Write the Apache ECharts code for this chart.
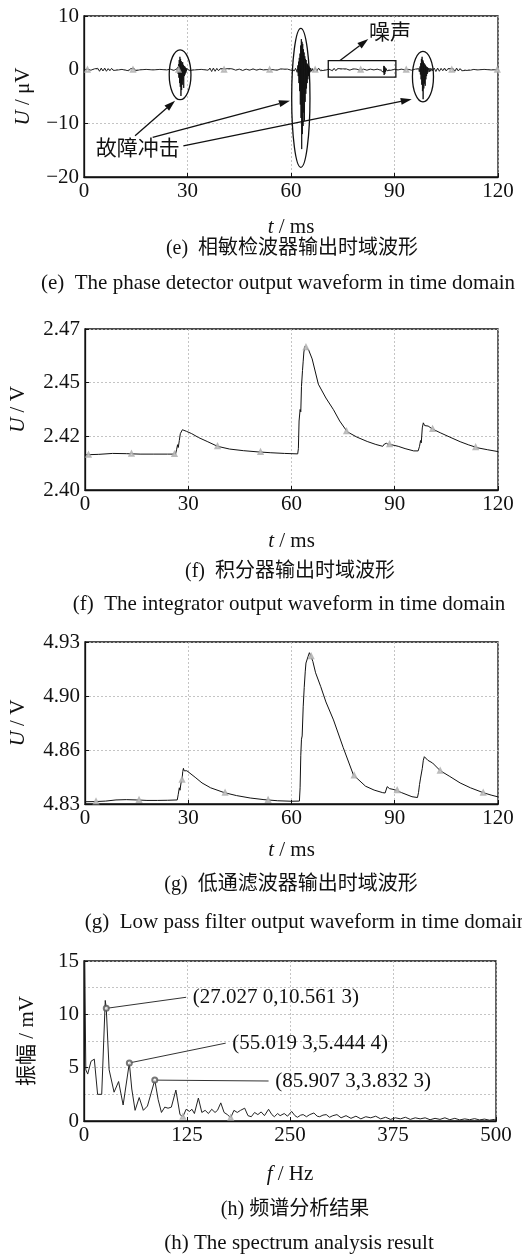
<!DOCTYPE html>
<html>
<head>
<meta charset="utf-8">
<script src="https://cdn.jsdelivr.net/npm/echarts@6/dist/echarts.min.js"></script>
<style>
  html, body { margin: 0; padding: 0; background: #fff; }
  #chart { width: 522px; height: 1256px; }
</style>
</head>
<body>
<div id="chart"></div>
<script>
// (e) phase detector output, t in ms, U in uV
let detectorWave = [
  [0,0],[1,0.1],[2,-0.1],[3,0.15],[3.5,-0.2],[4,0.25],[4.5,-0.3],[5,0.3],[5.5,-0.25],[6,0.3],[6.5,-0.3],[7,0.2],[7.5,-0.2],[8,0.25],[8.5,-0.15],[9,0.1],
  [10,-0.05],[11,0.05],[12,-0.1],[12.5,0.15],[13,-0.2],[13.5,0.2],[14,-0.15],[14.5,0.25],[15,-0.2],[15.5,0.1],[16,-0.05],[18,0.05],[20,-0.05],[22,0.05],[24,-0.05],[25,0.1],[26,-0.15],[26.5,0.2],
  [27,0.2],[27.1,-0.3],[27.2,0.5],[27.3,-0.8],[27.4,1.0],[27.5,-1.5],[27.6,1.8],[27.7,-2.5],[27.8,2.4],[27.9,-3.2],[28,2.0],[28.1,-4.9],[28.2,1.6],[28.3,-3.8],[28.4,1.2],[28.5,-2.8],
  [28.6,1.4],[28.7,-2.0],[28.8,0.9],[28.9,-3.4],[29,0.7],[29.1,-1.2],[29.2,0.6],[29.3,-0.9],[29.4,0.4],[29.5,-0.6],[29.6,0.3],[29.7,-0.3],[29.8,0.2],[29.9,-0.1],[30,0],
  [30.2,0.1],[30.5,-0.15],[31,0.1],[32,-0.05],[34,0.05],[36,-0.1],[36.5,0.3],[37,-0.35],[37.5,0.3],[38,-0.3],[38.5,0.25],[39,-0.2],[39.5,0.2],[40,-0.15],[41,0.15],[41.5,-0.2],[42,0.2],[42.5,-0.15],
  [43,0.15],[44,-0.1],[45,0.1],[46,-0.15],[47,0.1],[48,-0.1],[49,0.15],[50,-0.1],[51,0.1],[52,-0.05],[54,0.05],[56,-0.1],[57,0.15],[57.5,-0.15],[58,0.1],[58.5,-0.1],[59,0.1],[60,-0.1],[60.5,0.15],[61,-0.2],[61.3,0.25],
  [61.6,0.3],[61.8,-0.5],[62,0.8],[62.1,-1.2],[62.2,1.5],[62.3,-2.5],[62.4,2.2],[62.5,-4.0],[62.6,3.0],[62.7,-6.5],[62.8,4.5],[62.9,-9.0],[63,5.7],[63.1,-14.8],[63.2,5.2],[63.3,-12.0],[63.4,4.8],[63.5,-10.5],
  [63.6,3.8],[63.7,-8.0],[63.8,3.2],[63.9,-9.5],[64,2.5],[64.1,-6.0],[64.2,2.0],[64.3,-4.5],[64.4,1.8],[64.5,-3.5],[64.6,1.2],[64.7,-2.5],[64.8,1.0],[64.9,-1.8],[65,0.8],[65.1,-1.2],[65.2,0.6],[65.3,-0.8],
  [65.4,0.4],[65.5,-0.5],[65.7,0.3],[65.9,-0.3],[66.2,0.2],[66.5,-0.3],[67,0.25],[67.5,-0.3],[68,0.3],[68.5,-0.2],[69,0.15],[70,-0.1],[71,0.1],[72,-0.2],[72.5,0.25],[73,-0.2],[73.5,0.2],[74,-0.15],
  [75,0.15],[75.5,-0.2],[76,0.15],[77,-0.1],[78,0.15],[78.5,-0.15],[79,0.1],[80,-0.1],[81,0.1],[82,-0.1],[83,0.1],[84,-0.05],[85,0.1],[86,-0.1],[86.5,0.2],
  [86.6,0.2],[86.8,-0.5],[86.9,0.7],[87,-1.0],[87.1,0.6],[87.2,-0.8],[87.3,0.4],[87.4,-0.4],[87.6,0.2],[87.8,-0.2],[88.2,0.15],[89,-0.1],[90,0.05],[91,-0.05],[92,0.1],[93,-0.05],[94,0.05],[95,-0.1],[96,0.1],[96.5,-0.15],
  [97,0.2],[97.2,-0.4],[97.4,0.6],[97.5,-0.9],[97.6,1.2],[97.7,-1.8],[97.8,2.0],[97.9,-2.8],[98,2.4],[98.1,-4.0],[98.2,1.8],[98.3,-5.5],[98.4,1.5],[98.5,-3.5],[98.6,1.2],[98.7,-2.6],[98.8,1.0],[98.9,-3.0],
  [99,0.8],[99.1,-1.8],[99.2,0.6],[99.3,-1.2],[99.4,0.5],[99.5,-0.8],[99.6,0.4],[99.7,-0.5],[99.9,0.3],[100.1,-0.4],[100.3,0.3],[100.5,-0.3],[100.8,0.2],[101,-0.2],
  [101.5,0.3],[102,-0.35],[102.5,0.3],[103,-0.3],[103.5,0.25],[104,-0.2],[104.5,0.3],[105,-0.25],[105.5,0.2],[106,-0.15],[107,0.2],[107.5,-0.3],[108,0.3],[108.5,-0.25],[109,0.2],[109.5,-0.2],[110,0.15],
  [110.5,-0.15],[111,0.1],[112,-0.1],[113,0.05],[114,-0.05],[116,0.05],[118,-0.05],[120,0]
];
let detectorMarkT = [1, 14.2, 27.4, 40.6, 53.8, 67, 80.2, 93.4, 106.6, 119.8];

// (f) integrator output, U in V
let integratorWave = [
  [0,2.4153],[4,2.4155],[8,2.4159],[12,2.4158],[16,2.4156],[20,2.4156],[24,2.4156],[26.3,2.4156],[26.6,2.4175],[26.9,2.4197],[27.1,2.4185],[27.4,2.4215],[27.7,2.4245],[28,2.4238],[28.3,2.4262],
  [28.7,2.4258],[29.5,2.4255],[31,2.4245],[33,2.4228],[35.5,2.4211],[38.5,2.419],[42,2.4178],[46,2.4171],[50,2.4166],[54,2.4162],[58,2.4159],[61.8,2.4157],
  [62,2.418],[62.2,2.43],[62.5,2.435],[62.7,2.434],[62.9,2.445],[63.2,2.452],[63.4,2.456],[63.6,2.46],[63.9,2.4625],[64.3,2.462],[65,2.4608],[66,2.457],[67.8,2.446],[70,2.44],[72.2,2.4349],
  [74,2.43],[76.2,2.4253],[79,2.423],[82,2.4211],[84.5,2.4198],[86.5,2.419],[87,2.42],[87.6,2.4203],[88.2,2.4197],[89,2.4197],[91,2.419],[93,2.418],[95.5,2.417],[96.8,2.417],
  [97.2,2.419],[97.5,2.4215],[97.7,2.4205],[98,2.427],[98.3,2.4292],[98.7,2.428],[99.2,2.4285],[99.7,2.4278],[101,2.4265],[103.2,2.4249],[106,2.423],[109,2.421],[111.5,2.4196],[114.2,2.4183],[117,2.4175],[120,2.4167]
];
let integratorMarks = [[1,2.4153],[13.5,2.4158],[26,2.4156],[38.5,2.419],[51,2.4165],[64.2,2.4621],[76,2.4255],[88.5,2.4199],[101,2.4265],[113.5,2.4186]];

// (g) low pass filter output, U in V
let lowpassWave = [
  [0,4.8314],[3,4.8315],[6,4.8318],[9,4.8325],[12,4.8327],[15,4.8325],[18,4.8322],[21,4.8322],[24,4.8323],[26.8,4.8325],[27.1,4.836],[27.4,4.84],[27.6,4.8385],[27.9,4.843],[28.2,4.845],
  [28.4,4.85],[28.6,4.852],[28.8,4.8505],[29.1,4.8515],[29.6,4.8505],[30.5,4.849],[32,4.8465],[34,4.843],[36.5,4.84],[40.5,4.837],[44,4.8352],[48,4.8337],[52,4.8327],[56,4.832],[60,4.8317],
  [62.3,4.8318],[62.5,4.84],[62.7,4.86],[62.9,4.87],[63.1,4.872],[63.4,4.89],[63.7,4.902],[64,4.912],[64.2,4.917],[64.5,4.916],[64.8,4.921],[65.2,4.9234],[65.6,4.9215],[66.2,4.918],[67,4.911],
  [68.5,4.9024],[70,4.893],[72.2,4.8819],[75,4.865],[78,4.8479],[81.5,4.841],[84,4.8386],[86.5,4.837],[87.2,4.8368],[87.8,4.8407],[88.5,4.8395],[90,4.8388],[92,4.837],[95,4.8345],[96.6,4.834],
  [96.9,4.837],[97.2,4.842],[97.5,4.846],[97.7,4.845],[98,4.852],[98.3,4.857],[98.6,4.8592],[99,4.858],[99.6,4.857],[101,4.8553],[103.2,4.8506],[106,4.847],[109,4.843],[112,4.84],[115.7,4.837],[118,4.8355],[120,4.8344]
];
let lowpassMarks = [[3.2,4.8315],[15.7,4.8325],[28.2,4.845],[40.7,4.837],[53.2,4.8325],[65.7,4.9212],[78.2,4.8476],[90.7,4.8385],[103.2,4.8506],[115.7,4.837]];

// (h) spectrum, f in Hz, amplitude in mV
let spectrum = [
  [0.8,15],[2.2,4.8],[4.5,4.4],[8.5,5.6],[12.5,5.8],[16.5,2.5],[21.5,2.5],[25.8,11.3],[27.027,10.5613],[30.5,4.8],[36.5,2.7],[42,3.7],[47.5,1.5],[55.0193,5.4444],
  [58,3.0],[62,1.0],[67,2.2],[72,1.0],[77,1.4],[85.9073,3.8323],[90,2.0],[94,0.8],[98,1.3],[102,1.2],[106,1.3],[111.5,2.9],[116.5,0.6],[120,0.4],[124,1.1],[128,0.9],
  [131,1.1],[134,0.7],[138.8,2.15],[143,0.8],[147,1.0],[151,0.7],[155,1.1],[159,0.8],[162,1.0],[166,1.7],[170,0.8],[174,0.6],[178,0.3],[182,1.0],[186,0.8],[190,1.0],
  [195,1.2],[199,0.5],[203,0.4],[207,0.8],[211,0.6],[215,0.85],[219,0.5],[224,1.1],[228,0.6],[231,0.4],[235,0.7],[238,0.5],[243,0.7],[247,0.45],[252,0.9],[256,0.5],
  [259,0.35],[263,0.55],[266,0.6],[270,0.4],[274,0.6],[279,0.75],[283,0.45],[286,0.4],[290,0.55],[294,0.6],[298,0.35],[302,0.5],[307,0.6],[312,0.3],[318,0.5],[324,0.25],
  [330,0.45],[336,0.2],[342,0.4],[348,0.3],[354,0.45],[360,0.2],[366,0.35],[372,0.15],[378,0.3],[384,0.2],[390,0.35],[396,0.15],[402,0.3],[408,0.2],[414,0.3],[420,0.12],
  [426,0.25],[432,0.15],[438,0.3],[444,0.12],[450,0.25],[456,0.1],[462,0.2],[468,0.12],[474,0.22],[480,0.1],[486,0.18],[492,0.08],[498,0.15],[500,0.1]
];
let spectrumPeaks = [[27.027,10.5613],[55.0193,5.4444],[85.9073,3.8323]];
let spectrumPeakText = ['(27.027 0,10.561 3)', '(55.019 3,5.444 4)', '(85.907 3,3.832 3)'];
let spectrumTextAt = [[132,11.6],[180,7.3],[232,3.75]];
let spectrumMarks = [[120,0.4],[178,0.3]];

// tick values
let timeTicks = [0, 30, 60, 90, 120];
let detectorTicks = [-20, -10, 0, 10];
let integratorTicks = [2.40, 2.47];
let lowpassTicks = [4.83, 4.93];
let freqTicks = [0, 125, 250, 375, 500];
let ampTicks = [0, 5, 10, 15];

// annotation shapes on (e): [tCenter, uCenter, tHalf, uHalf]
let faultEllipses = [[27.85,-0.95,3.15,4.65],[62.85,-5.25,2.65,12.95],[98.25,-1.3,3.05,4.7]];
let noiseBox = [[70.8,1.7,90.4,-1.4]];
// arrows: [t0, u0, t1, u1]
let arrows = [[14.8,-12.3,26.4,-5.8],[19.9,-12.6,59.7,-5.8],[28.8,-14.2,95.0,-5.5],[74.2,1.7,82.4,5.7]];

let serif = '"Liberation Serif", "Noto Sans CJK SC", serif';
let ink = '#111';

let chart = echarts.init(document.getElementById('chart'));

let grids = [
  {left: 84, top: 16, width: 414, height: 161},
  {left: 84, top: 329, width: 414, height: 161},
  {left: 84, top: 642, width: 414, height: 162},
  {left: 84, top: 961, width: 412, height: 160}
].map(g => Object.assign(g, {show: true, borderColor: ink, borderWidth: 1.3, backgroundColor: 'transparent'}));

function minus(v) {
  return String(v).replace('-', '\u2212');
}

function splitStyle() {
  return {show: true, lineStyle: {color: '#b5b5b5', type: [2, 2], width: 0.8}};
}

function xAxisFor(i, ticks, nameText, gap) {
  return {
    type: 'value', gridIndex: i,
    min: ticks[0], max: ticks[ticks.length - 1], interval: ticks[1] - ticks[0],
    name: nameText, nameLocation: 'middle', nameGap: gap,
    nameTextStyle: {
      fontFamily: serif, fontSize: 21, color: ink,
      rich: {i: {fontFamily: serif, fontSize: 21, fontStyle: 'italic', color: ink}}
    },
    axisLine: {show: true, onZero: false, lineStyle: {color: ink, width: 1.3}},
    axisTick: {show: true, inside: true, length: 4, lineStyle: {color: ink}},
    axisLabel: {fontFamily: serif, fontSize: 21, color: ink, margin: 4},
    splitLine: splitStyle()
  };
}

function yAxisFor(i, min, max, interval, nameText, gap, fmt) {
  return {
    type: 'value', gridIndex: i, min: min, max: max, interval: interval,
    name: nameText, nameLocation: 'middle', nameGap: gap,
    nameTextStyle: {
      fontFamily: serif, fontSize: 21, color: ink,
      rich: {i: {fontFamily: serif, fontSize: 21, fontStyle: 'italic', color: ink}}
    },
    axisLine: {show: true, lineStyle: {color: ink, width: 1.3}},
    axisTick: {show: true, inside: true, length: 4, lineStyle: {color: ink}},
    axisLabel: {fontFamily: serif, fontSize: 21, color: ink, margin: 5, formatter: fmt},
    splitLine: splitStyle()
  };
}

function ellipseItem(params, api) {
  let c = api.coord([api.value(0), api.value(1)]);
  let s = api.size([api.value(2), api.value(3)]);
  return {type: 'ellipse', shape: {cx: c[0], cy: c[1], rx: s[0], ry: s[1]},
    style: {fill: 'none', stroke: ink, lineWidth: 1.3}};
}

function boxItem(params, api) {
  let a = api.coord([api.value(0), api.value(1)]);
  let b = api.coord([api.value(2), api.value(3)]);
  return {type: 'rect', shape: {x: a[0], y: a[1], width: b[0] - a[0], height: b[1] - a[1]},
    style: {fill: 'none', stroke: ink, lineWidth: 1.3}};
}

function arrowItem(params, api) {
  let a = api.coord([api.value(0), api.value(1)]);
  let b = api.coord([api.value(2), api.value(3)]);
  let ang = Math.atan2(b[1] - a[1], b[0] - a[0]);
  let len = 11, half = 3.5;
  let bx = b[0] - len * Math.cos(ang), by = b[1] - len * Math.sin(ang);
  let px = -Math.sin(ang) * half, py = Math.cos(ang) * half;
  return {type: 'group', children: [
    {type: 'line', shape: {x1: a[0], y1: a[1], x2: bx, y2: by}, style: {stroke: ink, lineWidth: 1.3}},
    {type: 'polygon', shape: {points: [[b[0], b[1]], [bx + px, by + py], [bx - px, by - py]]}, style: {fill: ink}}
  ]};
}

function leaderItem(params, api) {
  let a = api.coord([api.value(0), api.value(1)]);
  let b = api.coord([api.value(2), api.value(3)]);
  return {type: 'line', shape: {x1: a[0], y1: a[1], x2: b[0], y2: b[1]}, style: {stroke: '#333', lineWidth: 1}};
}

function textItem(params, api) {
  let p = api.coord([api.value(0), api.value(1)]);
  let item = params.context.items[params.dataIndex];
  return {type: 'text', x: p[0], y: p[1],
    style: {text: item.text, font: '21px ' + serif, fill: ink, textAlign: item.align, textVerticalAlign: 'middle'}};
}

function waveSeries(i, data, width, color) {
  return {type: 'line', xAxisIndex: i, yAxisIndex: i, data: data, showSymbol: false,
    lineStyle: {color: color || ink, width: width || 1}, animation: false, z: 3};
}

function markSeries(i, data) {
  return {type: 'scatter', xAxisIndex: i, yAxisIndex: i, data: data, symbol: 'emptyTriangle',
    symbolSize: 4, itemStyle: {color: '#aaa', borderColor: '#aaa', borderWidth: 0.7}, z: 4, silent: true};
}

function textSeries(i, points, texts, align) {
  return {type: 'custom', xAxisIndex: i, yAxisIndex: i, data: points, z: 6, silent: true,
    renderItem: function (params, api) {
      params.context.items = texts.map(t => ({text: t, align: align}));
      return textItem(params, api);
    }};
}

// [text, centre x, centre y, font size]
let captions = [
  ['(e)  相敏检波器输出时域波形', 292, 249, 20],
  ['(e)  The phase detector output waveform in time domain', 278, 283, 21],
  ['(f)  积分器输出时域波形', 290, 572, 20],
  ['(f)  The integrator output waveform in time domain', 289, 604, 21],
  ['(g)  低通滤波器输出时域波形', 291, 885, 20],
  ['(g)  Low pass filter output waveform in time domain', 306, 922, 21],
  ['(h) 频谱分析结果', 295, 1210, 20],
  ['(h) The spectrum analysis result', 299, 1243, 21]
];

let option = {
  backgroundColor: '#fff',
  animation: false,
  grid: grids,
  xAxis: [
    xAxisFor(0, timeTicks, '{i|t} / ms', 40),
    xAxisFor(1, timeTicks, '{i|t} / ms', 41),
    xAxisFor(2, timeTicks, '{i|t} / ms', 36),
    xAxisFor(3, freqTicks, '{i|f} / Hz', 43)
  ],
  yAxis: [
    yAxisFor(0, detectorTicks[0], detectorTicks[detectorTicks.length - 1], 10, '{i|U} / μV', 50, minus),
    yAxisFor(1, integratorTicks[0], integratorTicks[1], (integratorTicks[1] - integratorTicks[0]) / 3, '{i|U} / V', 56, v => v.toFixed(2)),
    yAxisFor(2, lowpassTicks[0], lowpassTicks[1], (lowpassTicks[1] - lowpassTicks[0]) / 3, '{i|U} / V', 56, v => v.toFixed(2)),
    Object.assign(yAxisFor(3, ampTicks[0], ampTicks[ampTicks.length - 1], 5, '振幅 / mV', 46),
      {minorTick: {show: false, splitNumber: 2}, minorSplitLine: {show: true, lineStyle: {color: '#b5b5b5', type: [2, 2], width: 0.8}}})
  ],
  series: [
    waveSeries(0, detectorWave, 0.9),
    markSeries(0, detectorMarkT.map(t => [t, 0])),
    {type: 'custom', xAxisIndex: 0, yAxisIndex: 0, renderItem: ellipseItem, data: faultEllipses, z: 5, silent: true},
    {type: 'custom', xAxisIndex: 0, yAxisIndex: 0, renderItem: boxItem, data: noiseBox, z: 5, silent: true},
    {type: 'custom', xAxisIndex: 0, yAxisIndex: 0, renderItem: arrowItem, data: arrows, z: 5, silent: true},
    textSeries(0, [[15.6, -14.8], [88.7, 6.7]], ['故障冲击', '噪声'], 'center'),

    waveSeries(1, integratorWave, 1),
    markSeries(1, integratorMarks),

    waveSeries(2, lowpassWave, 1),
    markSeries(2, lowpassMarks),

    waveSeries(3, spectrum, 1, '#222'),
    markSeries(3, spectrumMarks),
    {type: 'scatter', xAxisIndex: 3, yAxisIndex: 3, data: spectrumPeaks, symbol: 'emptyCircle', symbolSize: 5,
      itemStyle: {color: '#555', borderColor: '#555', borderWidth: 1}, z: 5, silent: true},
    {type: 'custom', xAxisIndex: 3, yAxisIndex: 3, renderItem: leaderItem, z: 5, silent: true,
      data: spectrumPeaks.map((p, k) => [p[0], p[1], spectrumTextAt[k][0] - 8, spectrumTextAt[k][1]])},
    textSeries(3, spectrumTextAt, spectrumPeakText, 'left')
  ],
  graphic: captions.map(c => ({
    type: 'text', x: c[1], y: c[2],
    style: {text: c[0], font: c[3] + 'px ' + serif, fill: ink, textAlign: 'center', textVerticalAlign: 'middle'}
  }))
};

chart.setOption(option);
</script>
</body>
</html>
